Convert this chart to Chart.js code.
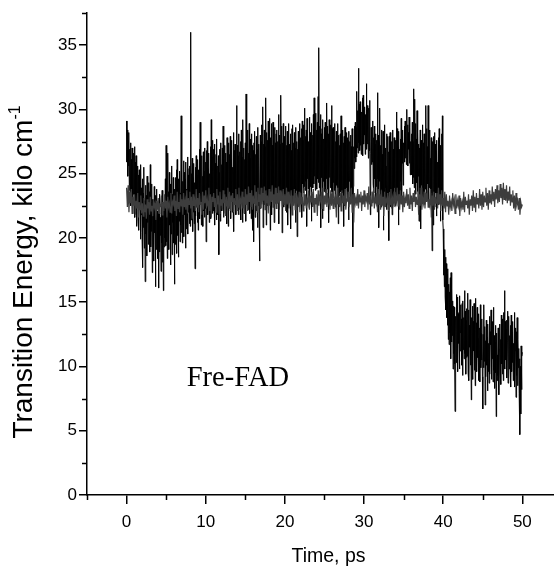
<!DOCTYPE html>
<html>
<head>
<meta charset="utf-8">
<script src="https://cdn.jsdelivr.net/npm/chart.js@4.4.1/dist/chart.umd.min.js"></script>
<style>
  html, body { margin: 0; padding: 0; background: #fff; }
  #chart { display: block; }
</style>
</head>
<body>
<canvas id="chart" width="554" height="567"></canvas>
<script>
// sampling steps of the two trajectories, ps (both start at 0 and end at 50)
var blackStep = 0.05;
var greyStep = 0.1;

// transition energy, kilo cm-1 (black trace), one row per ps
var blackEnergy = [
  29.1, 25.9, 28.4, 24.8, 27.6, 25.6, 28.2, 23.7, 26.9, 24.3, 27.4, 22.5, 26.1, 23.8, 27.0, 21.9, 25.8, 23.4, 26.6, 22.7,
  27.1, 21.6, 25.9, 22.8, 26.4, 20.9, 24.7, 23.1, 25.6, 21.3, 24.9, 20.6, 25.3, 22.4, 24.1, 19.9, 25.7, 21.8, 23.9, 20.4,
  24.6, 17.7, 23.5, 20.8, 25.5, 19.2, 22.9, 16.6, 24.1, 20.3, 23.3, 18.6, 24.8, 21.2, 22.7, 19.5, 24.3, 20.6, 23.6, 18.9,
  25.7, 19.3, 22.8, 20.5, 24.2, 17.3, 23.0, 19.9, 22.4, 18.2, 24.0, 20.4, 23.3, 16.2, 22.6, 19.1, 23.8, 20.7, 22.1, 18.4,
  21.9, 16.1, 22.8, 18.9, 23.4, 20.2, 21.6, 17.4, 22.9, 19.6, 23.7, 18.1, 21.8, 15.9, 22.5, 19.3, 23.1, 20.0, 24.6, 19.4,
  27.2, 19.7, 24.5, 18.4, 26.6, 20.8, 23.6, 19.1, 25.1, 21.0, 24.2, 17.9, 22.8, 20.3, 25.6, 18.7, 23.4, 21.2, 24.7, 19.6,
  22.4, 16.4, 23.8, 19.5, 24.7, 20.6, 25.3, 18.8, 26.1, 20.2, 23.9, 18.5, 24.6, 21.3, 25.2, 19.7, 23.5, 21.0, 29.5, 20.4,
  25.8, 19.6, 24.4, 21.2, 26.0, 20.1, 25.1, 21.8, 24.6, 19.2, 25.9, 20.7, 23.8, 21.5, 26.3, 20.3, 24.9, 22.0, 25.4, 21.1,
  25.6, 20.9, 36.0, 21.4, 25.0, 22.3, 26.2, 20.5, 24.7, 22.0, 25.8, 21.1, 24.3, 17.6, 25.5, 21.7, 26.4, 22.4, 24.9, 21.2,
  26.1, 20.6, 25.3, 22.2, 26.9, 21.5, 29.0, 22.8, 25.7, 21.0, 26.4, 22.5, 24.8, 20.9, 26.7, 22.1, 25.2, 21.6, 27.0, 22.3,
  25.9, 19.7, 26.8, 22.4, 27.5, 21.8, 25.4, 22.9, 26.6, 21.2, 25.0, 22.6, 27.1, 21.5, 29.2, 22.7, 26.3, 21.9, 27.6, 22.1,
  26.9, 22.6, 27.3, 21.0, 25.8, 22.9, 26.5, 21.4, 27.7, 22.2, 25.6, 21.8, 26.4, 18.7, 25.1, 22.7, 26.9, 21.3, 27.4, 22.5,
  25.7, 22.1, 27.0, 22.9, 28.7, 21.6, 26.2, 23.0, 27.2, 21.9, 26.6, 22.4, 25.9, 21.1, 27.8, 22.8, 26.3, 20.9, 27.4, 22.3,
  26.5, 22.7, 27.9, 21.5, 26.1, 23.2, 27.6, 22.0, 25.5, 22.6, 28.2, 20.5, 26.8, 22.9, 27.3, 21.8, 26.0, 22.4, 30.3, 22.1,
  27.2, 23.0, 26.4, 21.8, 28.1, 22.5, 26.7, 22.9, 27.5, 21.4, 28.4, 22.7, 26.3, 21.2, 29.2, 22.8, 27.0, 21.9, 26.1, 22.6,
  27.4, 21.3, 31.2, 22.6, 27.0, 23.1, 28.4, 22.2, 26.6, 23.4, 28.9, 21.9, 26.2, 22.8, 27.7, 21.5, 28.1, 22.4, 27.2, 20.6,
  26.8, 19.7, 27.4, 22.7, 28.3, 21.6, 26.5, 23.2, 27.9, 22.1, 26.9, 20.8, 28.6, 22.5, 27.3, 21.4, 18.2, 22.9, 28.0, 22.3,
  27.5, 22.8, 28.8, 23.5, 30.2, 20.8, 27.3, 23.0, 28.4, 22.6, 27.1, 23.4, 30.9, 21.0, 28.2, 23.8, 27.6, 22.5, 29.1, 22.9,
  28.3, 23.4, 29.3, 20.6, 27.8, 23.6, 28.9, 21.8, 27.2, 23.1, 29.0, 22.4, 27.7, 21.2, 28.6, 23.3, 27.4, 22.7, 28.1, 23.9,
  28.4, 22.7, 27.5, 23.8, 29.6, 21.1, 28.0, 23.2, 27.3, 22.9, 31.1, 23.5, 28.7, 20.4, 27.4, 23.7, 28.9, 22.4, 27.9, 23.0,
  27.6, 22.6, 28.7, 23.4, 27.2, 22.0, 28.3, 21.0, 27.5, 23.1, 28.9, 22.8, 27.3, 23.5, 28.1, 20.7, 26.8, 23.3, 28.5, 22.5,
  28.8, 23.6, 27.4, 22.9, 28.2, 23.2, 27.0, 21.2, 28.6, 23.7, 27.5, 20.1, 26.9, 23.0, 28.3, 22.6, 27.7, 23.4, 28.9, 22.8,
  27.8, 23.9, 28.5, 21.6, 29.1, 24.2, 27.6, 23.5, 28.8, 24.0, 30.1, 23.7, 27.9, 24.4, 28.4, 20.9, 29.3, 24.6, 28.1, 23.8,
  27.5, 24.3, 29.4, 22.6, 28.2, 24.0, 27.7, 21.3, 28.9, 24.5, 28.0, 23.9, 29.6, 24.2, 30.9, 24.8, 28.3, 23.7, 29.7, 24.1,
  28.4, 23.8, 29.0, 24.6, 31.0, 24.3, 34.8, 23.9, 28.7, 24.5, 29.6, 20.8, 28.1, 24.7, 28.5, 21.5, 29.2, 24.4, 27.7, 23.6,
  28.6, 24.0, 29.0, 23.5, 28.2, 24.6, 30.5, 23.8, 28.7, 24.2, 28.1, 21.2, 29.2, 24.7, 27.9, 23.9, 28.8, 24.4, 30.3, 23.6,
  28.5, 23.1, 28.6, 24.3, 27.8, 23.7, 28.9, 22.4, 27.5, 23.9, 28.3, 24.1, 27.6, 23.4, 28.9, 21.1, 28.0, 23.8, 27.2, 23.3,
  28.1, 23.6, 29.5, 22.8, 27.9, 23.5, 28.4, 24.1, 27.4, 20.9, 27.9, 22.5, 28.6, 23.7, 27.3, 23.9, 28.2, 22.9, 27.8, 23.4,
  27.6, 21.4, 28.3, 24.4, 27.5, 23.2, 28.0, 23.8, 27.1, 23.5, 28.5, 22.6, 19.3, 24.0, 27.1, 25.4, 28.7, 26.2, 29.0, 25.9,
  28.6, 26.3, 31.4, 27.0, 29.9, 26.6, 33.2, 27.4, 30.4, 26.8, 30.6, 27.2, 29.5, 26.5, 29.8, 27.6, 30.9, 26.4, 31.1, 27.3,
  29.7, 28.0, 30.2, 26.5, 29.6, 27.1, 32.0, 26.9, 30.3, 27.3, 29.4, 26.2, 30.1, 26.8, 30.7, 27.5, 21.8, 26.6, 28.6, 25.7,
  28.3, 25.9, 29.1, 24.2, 27.8, 23.5, 28.7, 24.6, 27.3, 22.7, 28.1, 24.0, 27.6, 23.3, 31.3, 24.6, 28.0, 20.8, 27.5, 24.4,
  30.1, 23.1, 27.2, 22.4, 28.4, 23.8, 26.5, 22.8, 28.3, 20.6, 27.6, 23.4, 28.8, 22.6, 27.0, 23.9, 25.6, 22.2, 28.1, 23.5,
  27.9, 22.9, 26.7, 19.8, 27.9, 23.6, 28.2, 22.4, 26.8, 23.1, 27.5, 21.8, 28.4, 23.3, 26.9, 22.7, 27.8, 23.9, 26.2, 22.5,
  27.6, 23.2, 29.8, 22.9, 28.5, 23.7, 27.1, 21.0, 28.3, 23.4, 26.9, 22.8, 27.7, 24.4, 29.3, 23.0, 27.9, 25.8, 28.4, 24.1,
  27.4, 26.6, 28.7, 25.9, 29.1, 26.2, 28.3, 25.7, 30.0, 26.4, 28.8, 25.6, 28.2, 26.9, 29.4, 25.8, 28.6, 24.9, 27.5, 25.3,
  28.1, 24.9, 29.0, 24.2, 27.5, 24.7, 31.6, 23.9, 30.8, 24.5, 28.9, 23.4, 27.7, 24.3, 29.9, 23.6, 28.2, 24.8, 27.3, 21.3,
  27.0, 23.9, 28.4, 20.7, 27.6, 24.1, 26.3, 23.2, 28.8, 24.5, 27.4, 23.1, 28.1, 22.6, 27.2, 23.8, 30.3, 24.2, 28.5, 23.0,
  27.1, 24.2, 30.3, 22.6, 27.6, 23.9, 28.4, 24.8, 26.2, 22.9, 27.8, 23.5, 19.0, 25.3, 27.5, 21.0, 27.9, 23.6, 28.2, 22.4,
  27.3, 23.5, 26.8, 21.7, 27.6, 22.9, 25.9, 23.3, 27.8, 22.6, 28.5, 23.1, 27.2, 21.3, 26.9, 24.0, 28.1, 22.7, 29.5, 21.4,
  20.7, 17.1, 19.9, 16.2, 19.1, 15.4, 18.5, 14.4, 18.0, 13.8, 17.2, 13.2, 17.6, 12.1, 16.4, 11.7, 15.8, 12.6, 16.9, 10.6,
  17.3, 11.9, 16.1, 12.4, 15.1, 9.8, 14.7, 11.0, 14.6, 10.2, 6.5, 12.3, 13.9, 10.3, 15.6, 11.4, 15.4, 9.6, 14.1, 11.8,
  14.2, 9.8, 15.5, 11.2, 14.8, 12.6, 13.7, 10.1, 14.9, 9.3, 15.1, 11.3, 13.8, 10.6, 15.9, 11.0, 14.3, 9.4, 13.6, 10.7,
  14.5, 10.8, 15.7, 9.5, 14.4, 8.9, 13.2, 11.5, 15.2, 10.1, 14.0, 7.4, 13.8, 10.2, 14.7, 9.0, 13.5, 11.2, 14.9, 9.7,
  12.9, 8.5, 15.3, 11.1, 13.4, 9.6, 14.6, 10.7, 12.2, 8.9, 14.1, 10.3, 13.0, 8.8, 14.8, 9.9, 12.6, 10.5, 13.7, 9.2,
  6.7, 12.5, 9.9, 14.8, 10.4, 13.1, 7.0, 12.0, 9.2, 13.6, 10.1, 12.3, 8.1, 13.3, 9.6, 11.8, 8.7, 13.9, 9.4, 12.7,
  11.7, 14.4, 9.0, 12.8, 10.6, 13.5, 8.8, 14.6, 9.7, 12.4, 8.3, 11.9, 9.5, 13.2, 6.1, 12.6, 8.9, 10.9, 9.3, 13.0,
  12.6, 7.8, 11.4, 13.3, 9.5, 12.1, 8.6, 14.0, 10.2, 13.7, 9.4, 12.8, 8.9, 14.2, 10.6, 15.9, 9.8, 13.5, 10.5, 12.9,
  13.6, 9.1, 12.0, 14.3, 8.7, 11.6, 13.9, 9.8, 12.4, 10.1, 13.2, 8.4, 14.0, 9.6, 12.7, 10.3, 13.5, 8.9, 11.8, 10.0,
  14.2, 8.4, 11.2, 13.0, 7.6, 12.7, 9.3, 13.8, 8.5, 12.1, 9.9, 11.4, 7.9, 10.6, 4.7, 10.0, 6.3, 11.6, 8.2, 10.8,
  11.1
];

// transition energy, kilo cm-1 (grey trace), one row per ps
var greyEnergy = [
  23.9, 22.4, 24.1, 22.0, 23.6, 22.7, 23.8, 21.9, 23.2, 22.5,
  23.4, 21.8, 22.9, 22.3, 23.5, 21.6, 22.8, 22.2, 23.3, 21.9,
  22.7, 21.7, 23.1, 22.0, 22.6, 21.5, 23.0, 22.3, 22.8, 21.8,
  23.2, 22.1, 22.5, 21.7, 23.0, 22.4, 22.7, 21.4, 22.9, 22.2,
  23.1, 21.9, 22.6, 22.5, 23.3, 21.8, 22.8, 22.1, 23.4, 22.3,
  22.9, 21.6, 23.2, 22.4, 22.7, 22.0, 23.5, 21.9, 22.8, 22.6,
  23.3, 22.1, 22.9, 21.7, 23.6, 22.3, 22.8, 22.0, 23.4, 22.5,
  23.0, 21.8, 23.5, 22.4, 22.9, 22.2, 23.7, 21.9, 23.1, 22.6,
  23.6, 22.3, 23.2, 21.5, 23.4, 22.5, 22.9, 22.1, 23.8, 22.4,
  23.1, 22.0, 23.5, 22.6, 22.8, 21.8, 23.6, 22.2, 23.3, 22.7,
  23.7, 22.3, 23.0, 22.5, 23.9, 22.1, 23.4, 21.6, 23.2, 22.8,
  23.5, 22.4, 23.1, 22.0, 23.8, 22.6, 23.3, 21.9, 23.6, 22.5,
  23.0, 22.2, 23.7, 22.7, 23.4, 21.7, 23.2, 22.5, 23.9, 22.3,
  23.6, 22.1, 23.3, 22.8, 23.5, 22.0, 23.1, 22.6, 23.8, 21.8,
  23.4, 22.4, 23.9, 22.2, 23.0, 22.7, 23.6, 22.3, 23.2, 21.9,
  23.8, 22.6, 23.4, 22.1, 24.0, 22.8, 23.5, 22.4, 23.7, 22.2,
  23.3, 22.7, 24.1, 22.5, 23.6, 22.0, 23.9, 22.8, 23.4, 22.3,
  23.9, 22.6, 23.5, 22.9, 24.0, 22.2, 23.7, 22.7, 23.3, 21.9,
  23.8, 22.5, 23.6, 22.8, 24.1, 22.4, 23.4, 22.6, 23.9, 22.3,
  23.5, 22.7, 24.0, 22.2, 23.7, 22.9, 23.3, 22.4, 23.8, 22.6,
  23.4, 22.1, 23.9, 22.6, 23.6, 22.3, 23.2, 22.8, 23.7, 21.8,
  23.3, 22.5, 23.8, 22.2, 23.5, 22.7, 23.1, 22.4, 23.6, 22.0,
  23.5, 22.6, 23.2, 22.1, 23.9, 22.5, 23.4, 22.3, 23.0, 22.7,
  23.7, 22.2, 23.3, 22.8, 23.6, 22.4, 23.8, 22.0, 23.1, 22.6,
  23.4, 21.7, 23.7, 22.5, 23.2, 22.9, 23.6, 22.3, 23.9, 22.1,
  23.3, 22.6, 23.8, 22.4, 23.5, 22.7, 23.0, 22.2, 23.7, 22.5,
  23.6, 22.3, 23.1, 22.8, 23.4, 21.6, 23.9, 22.6, 23.2, 22.4,
  23.5, 22.1, 23.7, 22.7, 23.3, 22.5, 23.8, 22.2, 23.0, 22.9,
  23.6, 22.4, 23.2, 22.6, 23.9, 22.0, 23.4, 21.2, 23.5, 22.7,
  23.1, 22.5, 23.8, 22.3, 23.4, 22.8, 23.6, 22.1, 23.3, 22.6,
  23.7, 22.4, 23.2, 22.9, 23.5, 22.2, 24.0, 22.6, 23.3, 22.5,
  23.6, 22.7, 23.9, 22.3, 23.1, 22.8, 23.5, 22.0, 23.8, 22.6,
  23.4, 22.2, 23.7, 22.5, 23.2, 21.7, 23.6, 22.4, 23.0, 22.8,
  23.5, 22.1, 23.3, 22.6, 23.8, 22.3, 23.1, 22.7, 23.6, 22.4,
  23.2, 22.8, 23.9, 22.5, 23.4, 22.2, 23.7, 22.6, 23.3, 22.0,
  23.6, 22.4, 23.1, 22.7, 23.8, 22.5, 23.4, 22.3, 23.9, 22.6,
  23.3, 22.1, 23.5, 22.8, 23.7, 22.4, 23.2, 22.6, 23.6, 21.8,
  23.4, 22.5, 23.9, 22.2, 23.1, 22.7, 23.6, 22.3, 23.5, 22.8,
  23.7, 22.4, 23.0, 22.6, 23.8, 21.6, 23.3, 22.5, 23.6, 22.2,
  23.2, 22.7, 23.5, 22.3, 23.9, 22.6, 23.4, 22.1, 23.7, 22.5,
  23.1, 22.3, 23.6, 22.0, 23.4, 22.5, 22.9, 21.8, 23.3, 22.4,
  22.8, 22.1, 23.5, 22.6, 23.0, 21.9, 23.4, 22.3, 22.9, 22.5,
  23.3, 21.7, 23.1, 22.4, 22.8, 22.2, 23.6, 22.0, 23.2, 22.6,
  22.9, 22.3, 23.4, 21.8, 23.0, 22.5, 23.3, 22.1, 23.7, 22.4,
  23.2, 22.0, 23.5, 22.6, 23.1, 22.3, 23.8, 22.5, 23.4, 22.2,
  23.6, 22.4, 23.3, 22.8, 23.9, 22.5, 23.5, 22.2, 23.7, 22.7,
  23.4, 22.6, 24.0, 22.9, 23.6, 22.4, 23.8, 23.0, 24.1, 22.7,
  23.7, 22.8, 24.2, 23.1, 23.9, 22.6, 24.3, 23.0, 23.8, 22.9,
  24.1, 22.7, 23.6, 22.9, 24.0, 22.5, 23.4, 22.8, 23.7, 22.3,
  23.3, 22.1, 23.5, 22.6, 22.9, 22.2, 23.1, 21.8, 22.8, 22.4,
  22.6
];

var xTicks = [0, 10, 20, 30, 40, 50];
var xMinorTicks = [-5, 5, 15, 25, 35, 45];
var yTicks = [0, 5, 10, 15, 20, 25, 30, 35];
var yMinorTicks = [2.5, 7.5, 12.5, 17.5, 22.5, 27.5, 32.5, 37.5];

var xTitle = 'Time, ps';
var yTitle = 'Transition Energy, kilo cm';
var yTitleSup = '-1';
var sampleLabel = 'Fre-FAD';
var sampleLabelAt = [7.6, 8.5];

function toPoints(values, step) {
  return values.map(function (v, i) {
    return { x: Math.round(i * step * 100) / 100, y: v };
  });
}

var sansFont = '"Liberation Sans", Arial, sans-serif';

// minor ticks, axis titles and the sample name
var decorations = {
  id: 'decorations',
  afterDraw: function (chart) {
    var ctx = chart.ctx;
    var xs = chart.scales.x, ys = chart.scales.y;
    var area = chart.chartArea;
    ctx.save();
    ctx.strokeStyle = '#000';
    ctx.lineWidth = 1.5;
    ctx.beginPath();
    xMinorTicks.forEach(function (v) {
      var px = Math.round(xs.getPixelForValue(v)) + 0.5;
      ctx.moveTo(px, area.bottom);
      ctx.lineTo(px, area.bottom + 5);
    });
    yMinorTicks.forEach(function (v) {
      var py = Math.round(ys.getPixelForValue(v)) + 0.5;
      ctx.moveTo(area.left, py);
      ctx.lineTo(area.left - 5, py);
    });
    ctx.stroke();

    ctx.fillStyle = '#000';
    ctx.textBaseline = 'alphabetic';
    ctx.font = '28.5px "Liberation Serif", "Times New Roman", serif';
    ctx.textAlign = 'left';
    ctx.fillText(sampleLabel, xs.getPixelForValue(sampleLabelAt[0]), ys.getPixelForValue(sampleLabelAt[1]));

    ctx.font = '19.5px ' + sansFont;
    ctx.textAlign = 'center';
    ctx.fillText(xTitle, (area.left + area.right) / 2 + 8, chart.height - 5.5);

    ctx.translate(32, 272);
    ctx.rotate(-Math.PI / 2);
    ctx.font = '28px ' + sansFont;
    var w1 = ctx.measureText(yTitle).width;
    ctx.font = '16px ' + sansFont;
    var w2 = ctx.measureText(yTitleSup).width;
    var start = -(w1 + w2) / 2;
    ctx.textAlign = 'left';
    ctx.font = '28px ' + sansFont;
    ctx.fillText(yTitle, start, 0);
    ctx.font = '16px ' + sansFont;
    ctx.fillText(yTitleSup, start + w1, -12);
    ctx.restore();
  }
};

new Chart(document.getElementById('chart'), {
  type: 'line',
  data: {
    datasets: [
      {
        data: toPoints(greyEnergy, greyStep),
        borderColor: '#3d3d3d',
        borderWidth: 1.2,
        pointRadius: 0,
        tension: 0
      },
      {
        data: toPoints(blackEnergy, blackStep),
        borderColor: '#000',
        borderWidth: 1,
        pointRadius: 0,
        tension: 0
      }
    ]
  },
  options: {
    responsive: false,
    animation: false,
    devicePixelRatio: 1,
    layout: { padding: { top: 13, right: 0, left: 0, bottom: 0 } },
    plugins: { legend: { display: false }, tooltip: { enabled: false } },
    scales: {
      x: {
        type: 'linear',
        min: -5,
        max: 54,
        afterBuildTicks: function (scale) {
          scale.ticks = xTicks.map(function (v) { return { value: v }; });
        },
        afterFit: function (scale) { scale.height = 72; },
        border: { display: true, color: '#000', width: 1.5 },
        grid: { drawOnChartArea: false, drawTicks: true, tickLength: 9, color: '#000', lineWidth: 1.5 },
        ticks: { color: '#000', padding: 8, maxRotation: 0, font: { family: sansFont, size: 17 } }
      },
      y: {
        type: 'linear',
        min: 0,
        max: 37.5,
        afterBuildTicks: function (scale) {
          scale.ticks = yTicks.map(function (v) { return { value: v }; });
        },
        afterFit: function (scale) { scale.width = 87; },
        border: { display: true, color: '#000', width: 1.5 },
        grid: { drawOnChartArea: false, drawTicks: true, tickLength: 8, color: '#000', lineWidth: 1.5 },
        ticks: { color: '#000', padding: 2, font: { family: sansFont, size: 17 } }
      }
    }
  },
  plugins: [decorations]
});
</script>
</body>
</html>
